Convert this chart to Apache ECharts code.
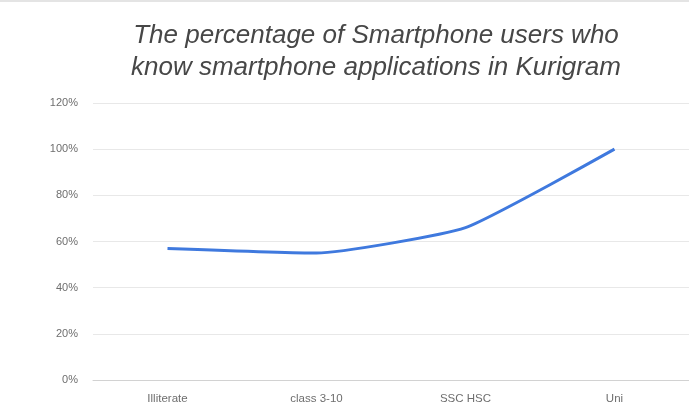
<!DOCTYPE html>
<html>
<head>
<meta charset="utf-8">
<script src="https://cdn.jsdelivr.net/npm/echarts@6/dist/echarts.min.js"></script>
<style>
  html, body { margin: 0; padding: 0; background: #ffffff; }
  #chart { width: 689px; height: 406px; border-top: 2px solid #e4e4e4; box-sizing: border-box; }
</style>
</head>
<body>
<div id="chart"></div>
<script>
// Education levels and share of smartphone users who know smartphone apps (%)
const categories = ['Illiterate', 'class 3-10', 'SSC HSC', 'Uni'];
const knowAppsPct = [57, 55, 66, 100];
const yTicks = { min: 0, max: 120, step: 20 };
const titleLines = ['The percentage of Smartphone users who', 'know smartphone applications in Kurigram'];

const chart = echarts.init(document.getElementById('chart'), null, { renderer: 'canvas' });
chart.setOption({
  backgroundColor: '#ffffff',
  animation: false,
  title: {
    text: titleLines.join('\n'),
    left: 371,
    top: 13,
    textAlign: 'center',
    textStyle: {
      fontFamily: 'Liberation Sans, Arial, sans-serif',
      fontStyle: 'italic',
      fontWeight: 'normal',
      fontSize: 26,
      lineHeight: 32,
      color: '#474747'
    }
  },
  grid: { left: 93, right: 0, top: 101, bottom: 26 },
  xAxis: {
    type: 'category',
    data: categories,
    boundaryGap: true,
    axisLine: { show: true, lineStyle: { color: '#d2d2d2', width: 1 } },
    axisTick: { show: false },
    axisLabel: {
      color: '#6e6e6e',
      fontFamily: 'Liberation Sans, Arial, sans-serif',
      fontSize: 11.5,
      margin: 13
    }
  },
  yAxis: {
    type: 'value',
    min: yTicks.min,
    max: yTicks.max,
    interval: yTicks.step,
    axisLine: { show: false },
    axisTick: { show: false },
    splitLine: { lineStyle: { color: '#e8e8e8', width: 1 } },
    axisLabel: {
      color: '#6e6e6e',
      fontFamily: 'Liberation Sans, Arial, sans-serif',
      fontSize: 11,
      margin: 15,
      formatter: '{value}%'
    }
  },
  series: [{
    type: 'line',
    data: knowAppsPct,
    smooth: 0.15,
    showSymbol: false,
    lineStyle: { color: '#3f79de', width: 3 }
  }]
});
</script>
</body>
</html>
